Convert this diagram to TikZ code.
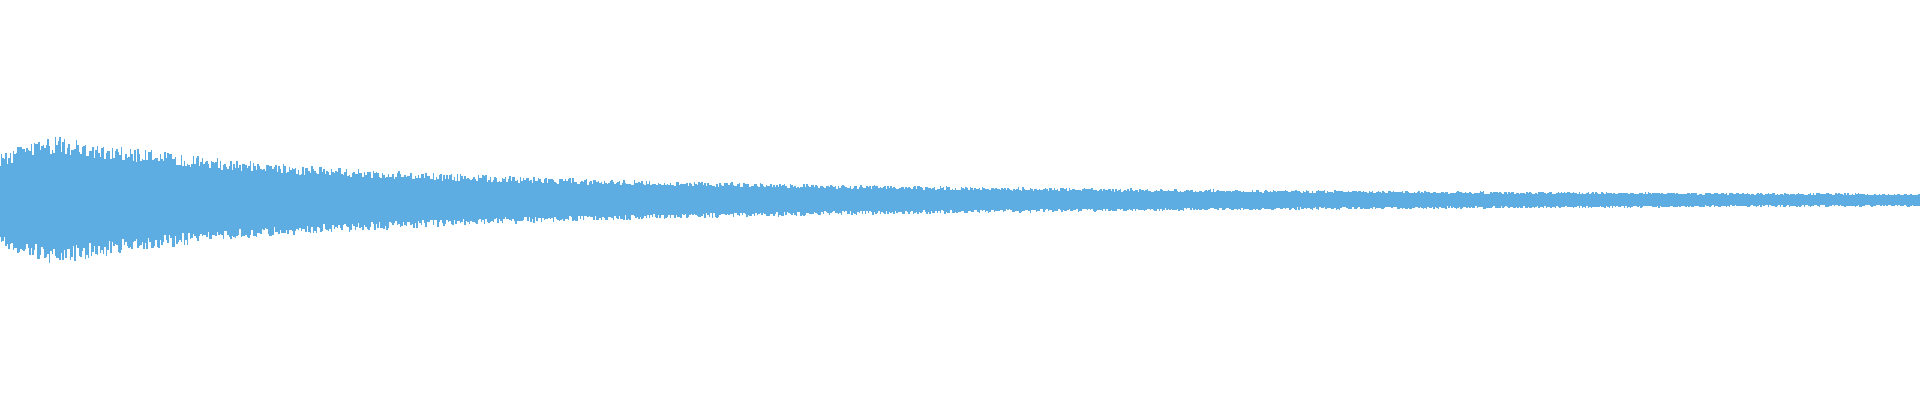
\documentclass[tikz,border=0pt]{standalone}
\definecolor{wavec}{RGB}{93,173,226}
\begin{document}
\begin{tikzpicture}[wave/.style={draw=wavec,line width=0.45pt}]
\useasboundingbox (0,0) rectangle (19.2,4);
\pgfmathsetseed{3}
\foreach \i in {0,1.5,...,1920}{
 \pgfmathsetmacro\A{(4+30*exp(-(\i-55)/200)+31*exp(-(\i-55)/750))*min(1,0.6+0.4*\i/55)/100}
 \pgfmathsetmacro\a{\A*(0.72+0.28*rnd)}
 \pgfmathsetmacro\b{\A*(0.72+0.28*rnd)}
 \draw[wave] (\i/100,2.0+\a) -- (\i/100,2.0-\b);
}
\end{tikzpicture}
\end{document}
